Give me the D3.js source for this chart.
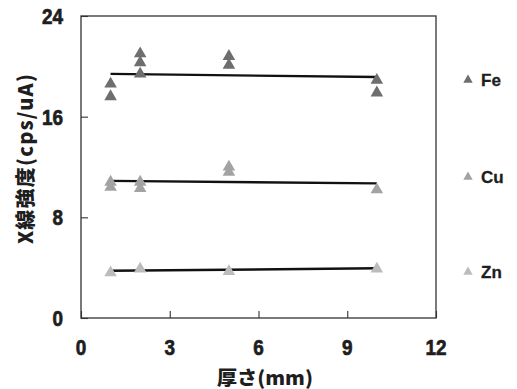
<!DOCTYPE html>
<html>
<head>
<meta charset="utf-8">
<script src="https://cdn.jsdelivr.net/npm/d3@7"></script>
<style>
  html, body { margin: 0; padding: 0; background: #fff; }
  svg { display: block; }
  .tick-label { font-family: "Liberation Sans", Arial, sans-serif; font-weight: bold; font-size: 22px; fill: #1e1e1e; stroke: #1e1e1e; stroke-width: 0.7px; }
  .legend-text { font-family: "Liberation Sans", Arial, sans-serif; font-weight: bold; font-size: 17px; fill: #1e1e1e; stroke: #1e1e1e; stroke-width: 0.3px; }
  .axis-title { font-family: "Noto Sans CJK JP", "Liberation Sans", sans-serif; font-weight: 900; fill: #1e1e1e; }
</style>
</head>
<body>
<svg id="chart" width="517" height="389"></svg>
<script>
// Thickness (mm) vs X-ray intensity (cps/uA) for three elements
const elements = ["Fe", "Cu", "Zn"];
const colors = ["#6e6e6e", "#a3a3a3", "#bcbcbc"];

const feX = [1, 1, 2, 2, 2, 5, 5, 10, 10];
const feY = [18.6, 17.6, 21.0, 20.3, 19.4, 20.8, 20.1, 18.9, 17.9];
const cuX = [1, 1, 2, 2, 5, 5, 10];
const cuY = [10.8, 10.4, 10.8, 10.3, 12.0, 11.6, 10.2];
const znX = [1, 2, 5, 10];
const znY = [3.6, 3.9, 3.7, 3.9];

// fitted trend lines, from x = 1 to x = 10
const trendX = [1, 10];
const feTrend = [19.4, 19.15];
const cuTrend = [10.9, 10.7];
const znTrend = [3.75, 3.95];

const xTicks = [0, 3, 6, 9, 12];
const yTicks = [0, 8, 16, 24];

const series = [
  { name: elements[0], color: colors[0], xs: feX, ys: feY, trend: feTrend },
  { name: elements[1], color: colors[1], xs: cuX, ys: cuY, trend: cuTrend },
  { name: elements[2], color: colors[2], xs: znX, ys: znY, trend: znTrend }
];

const svg = d3.select("#chart");
const plot = { left: 81, right: 436, top: 16, bottom: 318 };

const x = d3.scaleLinear().domain([0, 12]).range([plot.left, plot.right]);
const y = d3.scaleLinear().domain([0, 24]).range([plot.bottom, plot.top]);

// frame
svg.append("rect")
  .attr("x", plot.left).attr("y", plot.top)
  .attr("width", plot.right - plot.left).attr("height", plot.bottom - plot.top)
  .attr("fill", "none").attr("stroke", "#333").attr("stroke-width", 1.3);

// inward ticks
const xAxis = svg.append("g").attr("transform", `translate(0,${plot.bottom})`)
  .call(d3.axisBottom(x).tickValues(xTicks).tickSize(-7).tickFormat(""));
const yAxis = svg.append("g").attr("transform", `translate(${plot.left},0)`)
  .call(d3.axisLeft(y).tickValues(yTicks).tickSize(-7).tickFormat(""));
[xAxis, yAxis].forEach(g => {
  g.select(".domain").remove();
  g.selectAll("line").attr("stroke", "#333").attr("stroke-width", 1.1);
});

// tick labels (slightly condensed digits)
svg.append("g").selectAll("text").data(xTicks).join("text")
  .attr("class", "tick-label")
  .attr("transform", d => `translate(${x(d)},355) scale(0.86,1)`)
  .attr("text-anchor", "middle")
  .text(d => d);
svg.append("g").selectAll("text").data(yTicks).join("text")
  .attr("class", "tick-label")
  .attr("transform", d => `translate(63,${y(d) + 8}) scale(0.86,1)`)
  .attr("text-anchor", "end")
  .text(d => d);

// axis titles
svg.append("text").attr("class", "axis-title")
  .attr("x", 217).attr("y", 385)
  .style("font-size", "19px")
  .attr("textLength", 96).attr("lengthAdjust", "spacingAndGlyphs")
  .text("厚さ(mm)");
svg.append("text").attr("class", "axis-title")
  .attr("transform", "translate(33,244) rotate(-90)")
  .style("font-size", "20px")
  .attr("textLength", 170).attr("lengthAdjust", "spacing")
  .text("X線強度(cps/uA)");

const tri = d3.symbol().type(d3.symbolTriangle).size(68);
const triSmall = d3.symbol().type(d3.symbolTriangle).size(38);

// trend lines
series.forEach(s => {
  svg.append("line")
    .attr("x1", x(trendX[0])).attr("y1", y(s.trend[0]))
    .attr("x2", x(trendX[1])).attr("y2", y(s.trend[1]))
    .attr("stroke", "#111").attr("stroke-width", 2.4);
});

// data points
series.forEach(s => {
  svg.append("g").selectAll("path").data(s.xs.map((v, i) => [v, s.ys[i]])).join("path")
    .attr("d", tri)
    .attr("transform", d => `translate(${x(d[0])},${y(d[1])})`)
    .attr("fill", s.color);
});

// legend
const legendY = [80, 177, 272];
series.forEach((s, i) => {
  svg.append("path").attr("d", triSmall)
    .attr("transform", `translate(468,${legendY[i]})`)
    .attr("fill", s.color);
  svg.append("text").attr("class", "legend-text")
    .attr("x", 481).attr("y", legendY[i] + 6)
    .text(s.name);
});
</script>
</body>
</html>
